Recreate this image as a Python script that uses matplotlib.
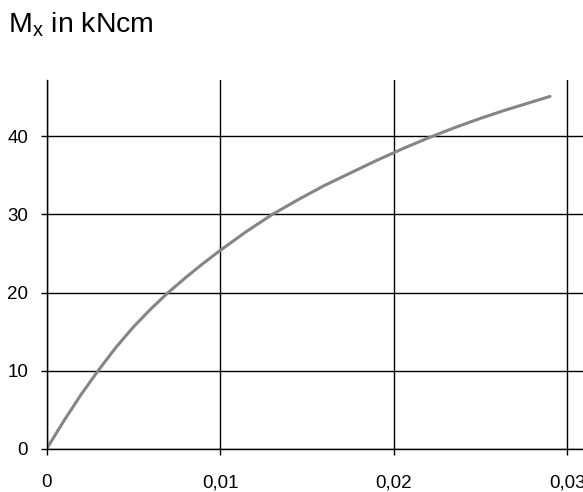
import matplotlib
matplotlib.use("Agg")
import matplotlib.pyplot as plt
from matplotlib.ticker import FuncFormatter

# curve (strain vs. moment)
strain = [0, 0.001, 0.002, 0.003, 0.004, 0.005, 0.006, 0.007, 0.008, 0.009,
          0.010, 0.0115, 0.013, 0.0145, 0.016, 0.0175, 0.019, 0.0205,
          0.022, 0.0235, 0.025, 0.0265, 0.029]
moment = [0, 3.6, 7.0, 10.1, 13.0, 15.6, 17.9, 20.0, 21.9, 23.7,
          25.4, 27.8, 30.0, 31.9, 33.7, 35.3, 36.9, 38.4,
          39.8, 41.1, 42.3, 43.4, 45.1]
x_ticks = [0, 0.01, 0.02, 0.03]
y_ticks = [0, 10, 20, 30, 40]

plt.rcParams["font.family"] = ["Liberation Sans", "DejaVu Sans"]
plt.rcParams["mathtext.fontset"] = "custom"
plt.rcParams["mathtext.rm"] = "Liberation Sans"

fig = plt.figure(figsize=(5.83, 4.92), dpi=100)
ax = fig.add_axes([0.0798, 0.0874, 0.9202, 0.75])

ax.plot(strain, moment, color="#858585", lw=2.2, solid_capstyle="round",
        solid_joinstyle="round")

ax.set_xlim(0, 0.0309)
ax.set_ylim(0, 47.2)
ax.set_xticks(x_ticks)
ax.set_yticks(y_ticks)
ax.xaxis.set_major_formatter(FuncFormatter(
    lambda v, p: "0" if v == 0 else f"{v:.2f}".replace(".", ",")))
ax.grid(True, color="black", lw=1.0)
ax.set_axisbelow(True)

for s in ["top", "right"]:
    ax.spines[s].set_visible(False)
for s in ["left", "bottom"]:
    ax.spines[s].set_color("black")
    ax.spines[s].set_linewidth(1.0)

ax.tick_params(axis="x", direction="out", length=4.3, width=1, pad=14, labelsize=13.5)
ax.tick_params(axis="y", direction="out", length=4.3, width=1, pad=9, labelsize=13.5)

fig.text(0.014, 0.951, r"M$_\mathregular{x}$ in kNcm", fontsize=20.5,
         ha="left", va="center")

fig.savefig("out.png", dpi=100)
